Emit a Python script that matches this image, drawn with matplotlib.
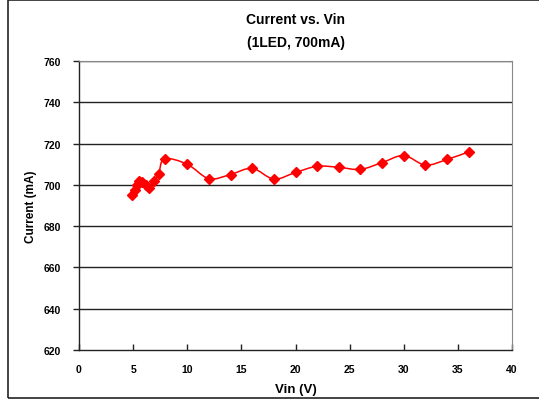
import numpy as np
import matplotlib
matplotlib.use("Agg")
import matplotlib.pyplot as plt
from matplotlib.path import Path
from matplotlib.patches import PathPatch, Rectangle

plt.rcParams['font.family'] = ['Liberation Sans', 'DejaVu Sans']

vin = [4.9, 5.15, 5.35, 5.55, 5.85, 6.15, 6.5, 6.9, 7.35, 7.9,
       10, 12, 14, 16, 18, 20, 22, 24, 26, 28, 30, 32, 34, 36]
current = [695.3, 697.7, 700.1, 702.0, 701.3, 700.0, 698.6, 701.8, 705.4, 712.6,
           710.0, 703.0, 705.0, 708.0, 702.8, 706.0, 709.0, 708.5, 707.5, 710.8,
           714.2, 709.6, 712.3, 716.0]

title_lines = ["Current vs. Vin", "(1LED, 700mA)"]
xlabel = "Vin (V)"
ylabel = "Current (mA)"


def smooth_path(x, y, t=1/6):
    # Excel-like smoothed line: cubic bezier segments (Catmull-Rom style)
    pts = np.column_stack([x, y])
    verts = [pts[0]]
    codes = [Path.MOVETO]
    n = len(pts)
    for i in range(n - 1):
        p0 = pts[i - 1] if i > 0 else pts[i]
        p1 = pts[i]
        p2 = pts[i + 1]
        p3 = pts[i + 2] if i + 2 < n else pts[i + 1]
        c1 = p1 + (p2 - p0) * t
        c2 = p2 - (p3 - p1) * t
        verts += [c1, c2, p2]
        codes += [Path.CURVE4] * 3
    return Path(verts, codes)


fig = plt.figure(figsize=(5.39, 4.02), dpi=100)
ax = fig.add_axes([79 / 539, 51 / 402, 433 / 539, 289 / 402])

# outer chart frame
fig.patches.append(Rectangle((8 / 539, 3 / 402), 540 / 539, 398 / 402,
                             transform=fig.transFigure, fill=False,
                             edgecolor='#222222', linewidth=1.2))

ax.add_patch(PathPatch(smooth_path(vin, current), facecolor='none',
                       edgecolor='#ff0000', linewidth=1.1, zorder=3))
ax.plot(vin, current, linestyle='none', marker='D', markersize=4.8,
        color='#ff0000', zorder=4)

ax.set_xlim(0, 40)
ax.set_ylim(620, 760)
ax.set_xticks(np.arange(0, 41, 5))
ax.set_yticks(np.arange(620, 761, 20))
for y in np.arange(640, 761, 20):
    ax.axhline(y, color='#222222', linewidth=1.0, zorder=1)

for s in ['top', 'right']:
    ax.spines[s].set_color('#888888')
for s in ['left', 'bottom']:
    ax.spines[s].set_color('#222222')
    ax.spines[s].set_linewidth(1.0)

ax.tick_params(axis='x', direction='in', length=4, width=1, pad=10,
               labelsize=7.5, color='#222222')
ax.tick_params(axis='y', direction='out', length=4, width=1, pad=9,
               labelsize=7.5, color='#222222')
for lab in ax.get_xticklabels() + ax.get_yticklabels():
    lab.set_fontweight('bold')

ax.set_xlabel(xlabel, fontsize=9.5, fontweight='bold')
ax.xaxis.set_label_coords(0.5, -0.115)
ax.xaxis.label.set_va('top')
ax.set_ylabel(ylabel, fontsize=8.5, fontweight='bold')
ax.yaxis.set_label_coords(-0.096, 0.5)

for i, line in enumerate(title_lines):
    fig.text(296 / 539, 1 - (20 + 23 * i) / 402, line, ha='center', va='center',
             fontsize=10, fontweight='bold')

fig.savefig("out.png", dpi=100)
